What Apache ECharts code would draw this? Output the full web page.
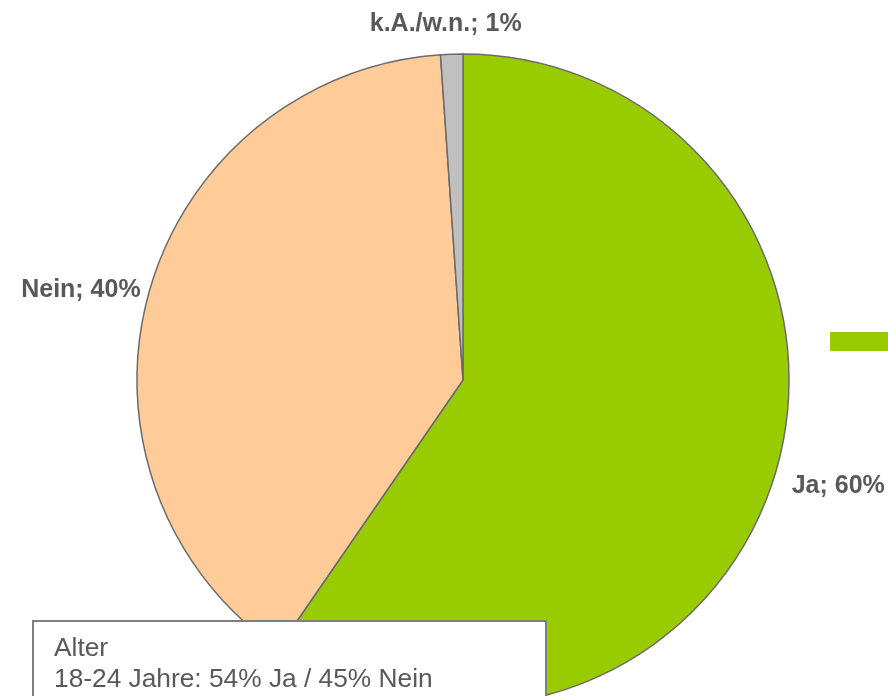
<!DOCTYPE html>
<html>
<head>
<meta charset="utf-8">
<script src="https://cdn.jsdelivr.net/npm/echarts@6/dist/echarts.min.js"></script>
<style>
html,body{margin:0;padding:0;background:#fff;}
#chart{width:888px;height:696px;}
</style>
</head>
<body>
<div id="chart"></div>
<script>
var categories = ['Ja', 'Nein', 'k.A./w.n.'];
var sliceValues = [59.6, 39.3, 1.1];
var labelPercents = [60, 40, 1];
var sliceColors = ['#99CC00', '#FFCC99', '#C0C0C0'];
var noteTitle = 'Alter';
var noteLine = '18-24 Jahre: 54% Ja / 45% Nein';

var labelLineLengths = [13, 3, 30];

var chart = echarts.init(document.getElementById('chart'), null, {renderer: 'canvas'});
var data = categories.map(function (c, i) {
  return {
    name: c,
    value: sliceValues[i],
    itemStyle: {color: sliceColors[i]},
    labelLine: {show: false, length: labelLineLengths[i], length2: 0}
  };
});
chart.setOption({
  animation: false,
  backgroundColor: '#ffffff',
  legend: {
    data: ['Ja'],
    left: 830,
    top: 332,
    padding: 0,
    icon: 'rect',
    itemWidth: 70,
    itemHeight: 19,
    itemStyle: {borderWidth: 0},
    textStyle: {color: '#595959', fontSize: 18},
    selectedMode: false
  },
  series: [{
    type: 'pie',
    center: [463, 380],
    radius: [0, 326],
    startAngle: 90,
    clockwise: true,
    avoidLabelOverlap: false,
    itemStyle: {borderColor: '#6b6b6b', borderWidth: 1.5},
    label: {
      show: true,
      position: 'outside',
      formatter: function (p) { return p.name + '; ' + labelPercents[p.dataIndex] + '%'; },
      fontFamily: 'Liberation Sans, Arial, sans-serif',
      fontWeight: 'bold',
      fontSize: 25,
      color: '#595959'
    },
    labelLine: {show: false},
    labelLayout: function (p) {
      if (p.dataIndex === 2) return {align: 'center'};
      if (p.dataIndex === 0) return {dy: 5};
      if (p.dataIndex === 1) return {dy: -3};
      return {};
    },
    emphasis: {disabled: true},
    data: data
  }],
  graphic: {
    elements: [{
      type: 'rect',
      z: 100,
      zlevel: 1,
      shape: {x: 33, y: 621, width: 513, height: 120},
      style: {fill: '#ffffff', stroke: '#7f7f7f', lineWidth: 2}
    }, {
      type: 'text',
      z: 101,
      zlevel: 1,
      x: 54,
      y: 633,
      style: {
        text: noteTitle + '\n' + noteLine,
        font: '26.3px "Liberation Sans", Arial, sans-serif',
        lineHeight: 31,
        fill: '#595959',
        verticalAlign: 'top'
      }
    }]
  }
});
</script>
</body>
</html>
